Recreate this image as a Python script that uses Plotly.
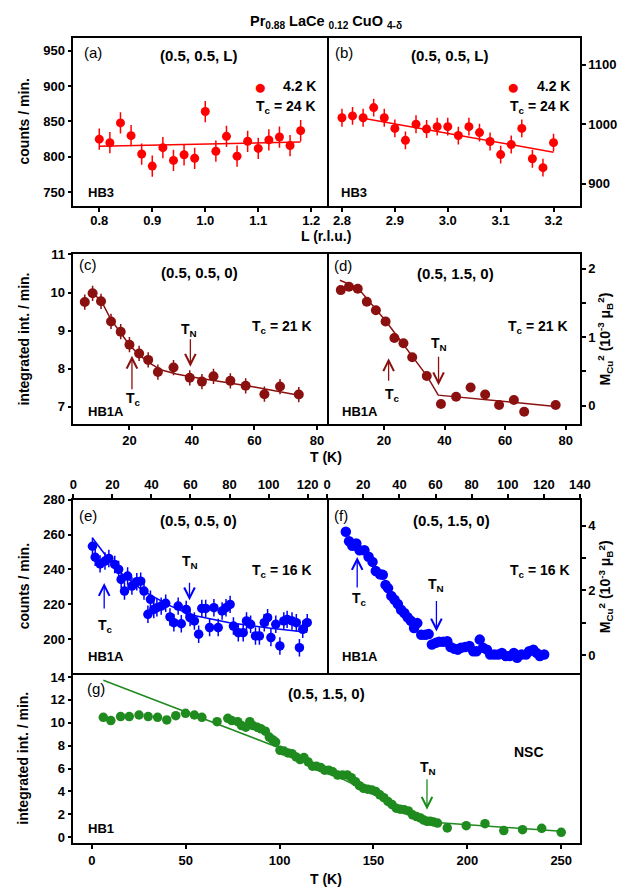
import plotly.graph_objects as go

W, H = 632, 894
FONT = "Liberation Sans, Arial, sans-serif"

# ---------------- data: panel (a) ----------------
L_a = [0.80, 0.82, 0.84, 0.86, 0.88, 0.90, 0.92, 0.94, 0.96, 0.98,
       1.00, 1.02, 1.04, 1.06, 1.08, 1.10, 1.12, 1.14, 1.16, 1.18]
cnt_a = [825, 820, 848, 830, 804, 787, 813, 795, 803, 798,
         864, 808, 829, 801, 822, 812, 824, 828, 816, 837]
err_a = 15
fitL_a = [0.80, 1.18]
fit_a = [815, 821]

# ---------------- panel (b) ----------------
L_b = [2.80, 2.82, 2.84, 2.86, 2.88, 2.90, 2.92, 2.94, 2.96, 2.98, 3.00,
       3.02, 3.04, 3.06, 3.08, 3.10, 3.12, 3.14, 3.16, 3.18, 3.20]
cnt_b = [1011, 1014, 1011, 1028, 1011, 993, 973, 1000, 992, 996, 996,
         981, 996, 986, 971, 949, 966, 993, 942, 927, 969]
err_b = 15
fitL_b = [2.84, 3.20]
fit_b = [1010, 953]

# ---------------- panel (c) ----------------
T_c = [5.7, 8.2, 10.9, 14.1, 17.2, 20.0, 23.1, 26.0, 29.1, 34.1,
       39.3, 43.2, 46.9, 52.3, 57.2, 63.2, 68.2, 74.2]
I_c = [9.75, 9.98, 9.77, 9.24, 8.97, 8.63, 8.40, 8.23, 7.91, 8.03,
       7.76, 7.66, 7.80, 7.68, 7.55, 7.33, 7.53, 7.32]
err_c = 0.2
fitT_c = [8, 11, 14, 17, 20, 23, 26, 30, 35, 40, 50, 60, 74.2]
fit_c = [10.0, 9.78, 9.3, 8.95, 8.62, 8.37, 8.17, 7.97, 7.86, 7.78, 7.65, 7.52, 7.3]

# ---------------- panel (d) ----------------
T_d = [5.7, 8.4, 11.3, 14.3, 17.3, 20.5, 23.4, 26.4, 29.3, 34.1,
       38.8, 43.8, 48.6, 53.4, 58.0, 62.9, 66.3, 76.7]
M_d = [1.687, 1.735, 1.706, 1.518, 1.393, 1.229, 0.988, 0.911, 0.708, 0.434,
       0.024, 0.130, 0.265, 0.164, 0.010, 0.082, -0.087, 0.010]
fitT_d = [5.4, 11.3, 20.5, 29.3, 34.1, 37.9, 76.7]
fit_d = [1.83, 1.72, 1.24, 0.72, 0.44, 0.154, -0.01]

# ---------------- panel (e) ----------------
T_e = [9.8, 11.2, 13.7, 16.2, 18.2, 21.2, 23.2, 24.5, 26.2, 27.8,
       30.0, 32.5, 34.5, 36.2, 38.2, 39.5, 41.2, 42.8, 45.0, 47.3,
       49.5, 51.5, 53.7, 55.3, 57.8, 59.8, 62.0, 64.2, 65.8, 67.8,
       69.8, 72.0, 74.2, 76.2, 78.2, 80.3, 82.0, 84.5, 87.0, 88.7,
       90.8, 93.3, 95.3, 97.8, 99.5, 101.2, 103.7, 105.8, 107.8, 109.5,
       112.0, 114.2, 115.8, 117.5, 119.8]
C_e = [253.3, 247.0, 243.2, 244.8, 246.3, 242.9, 240.0, 234.3, 227.6, 236.2,
       230.5, 233.0, 233.3, 227.6, 214.3, 222.9, 217.1, 218.1, 219.0, 220.6,
       212.8, 209.5, 219.0, 208.9, 217.1, 212.4, 210.5, 202.9, 217.7, 217.7,
       206.7, 218.1, 206.7, 216.2, 218.1, 220.0, 207.6, 203.8, 203.8, 210.5,
       208.6, 201.9, 201.9, 209.5, 212.4, 201.0, 208.6, 196.2, 210.5, 211.4,
       210.5, 209.5, 195.2, 205.7, 209.5]
err_e = 5
fitT_e = [9.8, 15, 20, 25, 30, 35, 40, 50, 60, 80, 100, 119.8]
fit_e = [258, 250, 243, 237.5, 233, 228.5, 225, 219, 214, 209.5, 206.5, 204]

# ---------------- panel (f) ----------------
T_f = [10.3, 12.1, 13.9, 16.1, 17.9, 20.6, 22.9, 25.1, 26.9, 29.2,
       30.8, 32.3, 33.7, 35.5, 37.3, 39.1, 40.9, 42.7, 44.5, 46.3,
       48.1, 49.9, 52.1, 54.4, 56.2, 58.0, 60.2, 62.0, 64.3, 66.5,
       68.3, 70.5, 72.3, 74.1, 76.4, 78.8, 80.9, 82.7, 84.5, 86.3,
       88.5, 90.3, 92.6, 94.8, 96.8, 98.9, 101.1, 103.4, 105.2, 107.6,
       110.1, 111.9, 114.2, 116.0, 117.8, 120.2]
M_f = [3.81, 3.52, 3.38, 3.45, 3.24, 3.24, 3.04, 2.88, 2.60, 2.50,
       2.48, 2.17, 2.07, 1.83, 1.71, 1.58, 1.40, 1.30, 1.17, 1.06,
       0.84, 0.99, 0.63, 0.63, 0.65, 0.33, 0.38, 0.41, 0.41, 0.43,
       0.25, 0.20, 0.17, 0.23, 0.25, 0.28, 0.12, 0.12, 0.48, 0.23,
       0.17, 0.02, 0.02, 0.02, 0.07, -0.03, -0.03, 0.07, -0.08, 0.02,
       0.02, 0.12, 0.17, 0.07, -0.03, 0.02]

# ---------------- panel (g) ----------------
T_g = [6.1, 10.1, 15.3, 19.9, 25.1, 30.0, 35.0, 39.9, 44.7, 49.9,
       54.6, 58.6, 66.7, 72.4, 74.5, 77.7, 79.7, 82.0, 84.1, 85.8,
       88.1, 90.1, 92.4, 94.5, 96.2, 97.9, 100.2, 102.3, 104.5, 106.6,
       108.8, 110.9, 113.0, 115.2, 117.5, 119.6, 121.9, 124.0, 126.2, 128.3,
       130.9, 133.5, 136.1, 138.2, 140.4, 142.5, 144.7, 146.9, 149.1, 151.2,
       153.4, 155.5, 157.7, 159.9, 162.1, 164.2, 166.4, 168.6, 170.8, 172.9,
       175.1, 176.8, 178.5, 180.2, 182.0, 184.1, 189.3, 199.4, 209.4, 219.4,
       229.4, 239.6, 250.0]
I_g = [10.48, 10.19, 10.54, 10.54, 10.68, 10.54, 10.48, 10.25, 10.62, 10.83,
       10.68, 10.48, 10.10, 10.39, 10.19, 10.10, 9.76, 9.61, 10.10, 9.76,
       9.61, 9.47, 9.27, 8.75, 8.52, 8.31, 7.59, 7.53, 7.36, 7.30,
       7.02, 6.78, 6.96, 6.58, 6.21, 6.21, 6.09, 5.86, 5.86, 5.72,
       5.43, 5.43, 5.43, 5.20, 4.85, 4.50, 4.27, 4.20, 4.13, 4.00,
       3.70, 3.45, 3.12, 2.85, 2.54, 2.45, 2.40, 2.30, 1.96, 1.80,
       1.67, 1.50, 1.39, 1.40, 1.33, 1.24, 0.81, 1.01, 1.18, 0.58,
       0.66, 0.78, 0.43]
err_g = 0.35
fitT_g = [6.1, 100, 180, 250]
fit_g = [13.71, 7.8, 1.32, 0.52]

# characteristic temperatures (arrows)
TN_c, TC_c = 39.5, 20.8
TN_d, TC_d = 38.0, 21.5
TN_e, TC_e = 59.5, 15.8
TN_f, TC_f = 60.5, 16.6
TN_g = 178.5

RED, DRED, BLUE, GREEN = "#ff0000", "#8b1010", "#0000ff", "#1f8b1f"

# ---------------- figure ----------------
fig = go.Figure()


def pts(x, y, xa, ya, color, size, err=None):
    kw = {}
    if err is not None:
        kw["error_y"] = dict(type="constant", value=err, color=color,
                             thickness=1.5, width=0)
    fig.add_trace(go.Scatter(x=x, y=y, mode="markers", xaxis=xa, yaxis=ya,
                             marker=dict(color=color, size=size, line=dict(width=0)),
                             showlegend=False, **kw))


def line(x, y, xa, ya, color):
    fig.add_trace(go.Scatter(x=x, y=y, mode="lines", xaxis=xa, yaxis=ya,
                             line=dict(color=color, width=1.5), showlegend=False))


line(fitL_a, fit_a, "x", "y", RED)
pts(L_a, cnt_a, "x", "y", RED, 9, err_a)
line(fitL_b, fit_b, "x2", "y2", RED)
pts(L_b, cnt_b, "x2", "y2", RED, 9, err_b)
line(fitT_c, fit_c, "x3", "y3", DRED)
pts(T_c, I_c, "x3", "y3", DRED, 10, err_c)
line(fitT_d, fit_d, "x4", "y4", DRED)
pts(T_d, M_d, "x4", "y4", DRED, 10)
line(fitT_e, fit_e, "x5", "y5", BLUE)
pts(T_e, C_e, "x5", "y5", BLUE, 9.5, err_e)
pts(T_f, M_f, "x6", "y6", BLUE, 10.5)
line(fitT_g, fit_g, "x7", "y7", GREEN)
pts(T_g, I_g, "x7", "y7", GREEN, 9.5, err_g)


def dx(a, b):
    return [a / W, b / W]


def dy(top, bottom):
    return [1 - bottom / H, 1 - top / H]


common = dict(showline=True, linecolor="black", linewidth=1.5, mirror=True,
              ticks="outside", ticklen=4, tickwidth=1.5, tickcolor="black",
              showgrid=False, zeroline=False,
              tickfont=dict(family=FONT, size=13, color="black", weight="bold"))

axes = {
    "xaxis": dict(domain=dx(71, 331), range=[0.751, 1.230], anchor="y",
                  tickvals=[0.8, 0.9, 1.0, 1.1, 1.2], tickformat=".1f",
                  ticklabelstandoff=-3),
    "yaxis": dict(domain=dy(31, 201), range=[730.4, 968.2], anchor="x",
                  tickvals=[750, 800, 850, 900, 950]),
    "xaxis2": dict(domain=dx(331, 590), range=[2.772, 3.250], anchor="y2",
                   tickvals=[2.8, 2.9, 3.0, 3.1, 3.2], tickformat=".1f",
                   ticklabelstandoff=-3),
    "yaxis2": dict(domain=dy(31, 201), range=[862.2, 1145.5], anchor="x2",
                   side="right", mirror=False, tickvals=[900, 1000, 1100]),
    "xaxis3": dict(domain=dx(71, 331), range=[2.03, 83.28], anchor="y3",
                   tickvals=[20, 40, 60, 80]),
    "yaxis3": dict(domain=dy(249.5, 420.7), range=[6.548, 11.005], anchor="x3",
                   tickvals=[7, 8, 9, 10, 11]),
    "xaxis4": dict(domain=dx(331, 590), range=[1.19, 84.74], anchor="y4",
                   tickvals=[20, 40, 60, 80]),
    "yaxis4": dict(domain=dy(249.5, 420.7), range=[-0.266, 2.21], anchor="x4",
                   side="right", mirror=False, tickvals=[0, 0.5, 1, 1.5, 2],
                   ticktext=["0", "", "1", "", "2"]),
    "xaxis5": dict(domain=dx(71, 331), range=[-0.01, 130], anchor="y5",
                   side="top", tickvals=[0, 20, 40, 60, 80, 100, 120]),
    "yaxis5": dict(domain=dy(497, 672), range=[180.7, 280.05], anchor="x5",
                   tickvals=[200, 220, 240, 260, 280]),
    "xaxis6": dict(domain=dx(331, 590), range=[-0.05, 140.05], anchor="y6",
                   side="top", tickvals=[0, 20, 40, 60, 80, 100, 120, 140]),
    "yaxis6": dict(domain=dy(497, 672), range=[-0.551, 4.806], anchor="x6",
                   side="right", mirror=False, tickvals=[0, 1, 2, 3, 4],
                   ticktext=["0", "", "2", "", "4"]),
    "xaxis7": dict(domain=dx(71, 590), range=[-9.88, 260], anchor="y7",
                   mirror=False, tickvals=[0, 50, 100, 150, 200, 250]),
    "yaxis7": dict(domain=dy(672, 844), range=[-0.545, 14.35], anchor="x7",
                   tickvals=[0, 2, 4, 6, 8, 10, 12, 14]),
}
for k, v in axes.items():
    d = dict(common)
    d.update(v)
    axes[k] = d

fig.update_layout(width=W, height=H, margin=dict(l=0, r=0, t=0, b=0),
                  paper_bgcolor="white", plot_bgcolor="white",
                  showlegend=False, **axes)


def txt(x, y, s, size=14, bold=True, anchor="center", color="black", angle=0):
    fig.add_annotation(x=x / W, y=1 - y / H, xref="paper", yref="paper", text=s,
                       showarrow=False, xanchor=anchor, yanchor="middle",
                       textangle=angle,
                       font=dict(family=FONT, size=size, color=color,
                                 weight="bold" if bold else "normal"))


def arrow(xa, ya, x, y, ay, color):
    fig.add_annotation(x=x, y=y, xref=xa, yref=ya, ax=0, ay=ay,
                       axref="pixel", ayref="pixel", text="", showarrow=True,
                       arrowhead=5, arrowsize=1.6, arrowwidth=1.3,
                       arrowcolor=color)


TC = "T<sub>c</sub>"
TN = "T<sub>N</sub>"

# title
txt(330, 15, "Pr<sub>0.88</sub> LaCe <sub>0.12</sub> CuO <sub>4-δ</sub>", 14.5)

# (a)
txt(80, 46, "(a)", 15, bold=False, anchor="left")
txt(200, 49, "(0.5, 0.5, L)", 15)
txt(263, 80, "●", 21, color=RED)
txt(322, 80, "4.2 K", 14, anchor="right")
txt(322, 101, TC + " = 24 K", 14, anchor="right")
txt(84, 187, "HB3", 13, anchor="left")
# (b)
txt(337, 46, "(b)", 15, bold=False, anchor="left")
txt(457, 49, "(0.5, 0.5, L)", 15)
txt(522, 80, "●", 21, color=RED)
txt(582, 80, "4.2 K", 14, anchor="right")
txt(582, 101, TC + " = 24 K", 14, anchor="right")
txt(343, 187, "HB3", 13, anchor="left")
txt(330, 231, "L (r.l.u.)", 14)

# (c)
txt(75, 260, "(c)", 15, bold=False, anchor="left")
txt(200, 268, "(0.5, 0.5, 0)", 15)
txt(318, 323, TC + " = 21 K", 14, anchor="right")
txt(84, 408, "HB1A", 13, anchor="left")
txt(133, 396, TC, 14)
txt(190, 326, TN, 14)
arrow("x3", "y3", TN_c, 8.05, -29, DRED)
arrow("x3", "y3", TC_c, 8.34, 35, DRED)
# (d)
txt(336, 261, "(d)", 15, bold=False, anchor="left")
txt(462, 269, "(0.5, 1.5, 0)", 15)
txt(580, 323, TC + " = 21 K", 14, anchor="right")
txt(344, 408, "HB1A", 13, anchor="left")
txt(398, 392, TC, 14)
txt(446, 340, TN, 14)
arrow("x4", "y4", TN_d, 0.298, -30, DRED)
arrow("x4", "y4", TC_d, 0.694, 24, DRED)
txt(330, 454, "T (K)", 14)

# (e)
txt(75, 513, "(e)", 15, bold=False, anchor="left")
txt(199, 518, "(0.5, 0.5, 0)", 15)
txt(318, 569, TC + " = 16 K", 14, anchor="right")
txt(84, 655, "HB1A", 13, anchor="left")
txt(104, 625, TC, 14)
txt(191, 560, TN, 14)
arrow("x5", "y5", TN_e, 222.3, -19, BLUE)
arrow("x5", "y5", TC_e, 232.3, 27, BLUE)
# (f)
txt(336, 513, "(f)", 15, bold=False, anchor="left")
txt(458, 518, "(0.5, 1.5, 0)", 15)
txt(582, 569, TC + " = 16 K", 14, anchor="right")
txt(344, 655, "HB1A", 13, anchor="left")
txt(364, 597, TC, 14)
txt(443, 583, TN, 14)
arrow("x6", "y6", TN_f, 0.73, -32, BLUE)
arrow("x6", "y6", TC_f, 3.03, 32, BLUE)

# (g)
txt(83, 688, "(g)", 15, bold=False, anchor="left")
txt(330, 693, "(0.5, 1.5, 0)", 15)
txt(538, 752, "NSC", 14)
txt(84, 829, "HB1", 13, anchor="left")
txt(434, 768, TN, 14)
arrow("x7", "y7", TN_g, 2.40, -32, GREEN)
txt(330, 880, "T (K)", 14)

# axis titles
txt(20, 116, "counts / min.", 14, angle=-90)
txt(20, 335, "integrated int. / min.", 14, angle=-90)
txt(20, 585, "counts / min.", 14, angle=-90)
txt(20, 758, "integrated int. / min.", 14, angle=-90)
MLAB = "M<sub>Cu</sub><sup>2</sup> (10<sup>-3</sup> μ<sub>B</sub><sup>2</sup>)"
txt(616, 335, MLAB, 14, angle=-90)
txt(616, 585, MLAB, 14, angle=-90)

fig.write_html("out.html", config={"displayModeBar": False},
               post_script="document.body.style.margin='0';"
                           "document.body.style.overflow='hidden';")
